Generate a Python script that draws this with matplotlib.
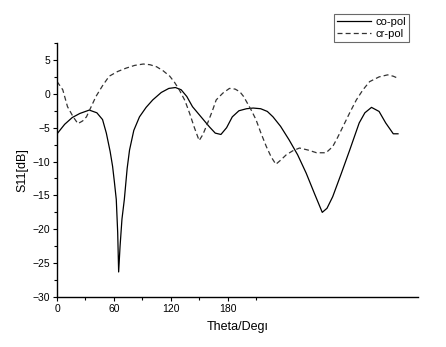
import numpy as np
import matplotlib
matplotlib.use('Agg')
import matplotlib.pyplot as plt
from matplotlib.ticker import MultipleLocator, FixedLocator

plt.rcParams['font.family'] = ['Liberation Sans', 'DejaVu Sans']

### Data (theta in deg, S11 in dB)
co_theta = [0, 8, 16, 24, 34, 42, 48, 52, 56, 58.6, 60.5, 62.5, 64, 65, 66.5, 68.5, 71,
            74, 76.5, 81, 87, 94, 101, 110, 118, 125, 131, 137, 143, 152, 161, 167, 173,
            179, 185, 192, 200, 207, 215, 222, 228, 236, 245, 254, 263, 272, 280, 285,
            291, 300, 309, 319, 325, 332, 340, 347, 355, 360]
co_s11 = [-5.9, -4.5, -3.5, -2.9, -2.4, -2.8, -3.8, -5.8, -8.5, -10.7, -13.0, -15.6, -20.5,
          -26.3, -22.5, -18.5, -15.6, -11.0, -8.3, -5.4, -3.4, -2.0, -0.9, 0.2, 0.8, 0.93,
          0.6, -0.4, -1.9, -3.4, -4.9, -5.8, -6.0, -5.0, -3.4, -2.5, -2.2, -2.1, -2.2,
          -2.6, -3.4, -4.8, -6.8, -9.0, -11.7, -14.8, -17.5, -16.9, -15.2, -11.8, -8.3,
          -4.3, -2.8, -2.0, -2.6, -4.3, -5.9, -5.9]

cr_theta = [0, 6, 11, 17, 22, 27, 31, 36, 41, 48, 55, 64, 73, 82, 91, 98, 105, 112, 119,
            124, 129, 135, 140, 145, 150, 154, 159, 164, 168, 175, 182, 188, 193, 197, 201,
            205, 210, 215, 221, 226, 231, 236, 242, 249, 256, 265, 274, 284, 291, 296,
            302, 309, 316, 323, 330, 340, 349, 355, 360]
cr_s11 = [1.8, 0.6, -1.9, -3.4, -4.4, -4.0, -3.4, -1.9, -0.4, 1.2, 2.6, 3.3, 3.8, 4.2,
          4.4, 4.3, 4.0, 3.4, 2.6, 1.7, 0.6, -1.0, -2.9, -5.0, -6.9, -6.0, -4.3, -2.5,
          -0.9, 0.1, 0.8, 0.7, 0.3, -0.4, -1.4, -2.4, -3.8, -5.7, -7.8, -9.3, -10.4, -9.8,
          -9.0, -8.4, -8.0, -8.3, -8.7, -8.7, -7.8, -6.5, -4.8, -2.8, -0.9, 0.6, 1.8, 2.5,
          2.8, 2.6, 2.3]

xtick_major = [0, 60, 120, 180]
xtick_minor = [30, 90, 150, 210]

### Figure parameters
fig = plt.figure(figsize=(4.46, 3.47), dpi=100)
ax = fig.add_axes([0.128, 0.144, 0.809, 0.732])

ax.plot(co_theta, co_s11, '-', color='black', lw=0.9, label='co-pol')
ax.plot(cr_theta, cr_s11, '--', color='#333333', lw=0.9, dashes=(4, 2.5), label='cr-pol')

ax.set_xlim(0, 381)
ax.set_ylim(-30, 7.5)
for s in ['top', 'right']:
    ax.spines[s].set_visible(False)
for s in ['left', 'bottom']:
    ax.spines[s].set_linewidth(1.0)

ax.xaxis.set_major_locator(FixedLocator(xtick_major))
ax.xaxis.set_minor_locator(FixedLocator(xtick_minor))
ax.yaxis.set_major_locator(MultipleLocator(5))
ax.yaxis.set_minor_locator(MultipleLocator(2.5))
ax.tick_params(which='major', direction='out', length=3, width=0.8, labelsize=7.5, pad=2)
ax.tick_params(which='minor', direction='out', length=2, width=0.8)

ax.set_xlabel('Theta/Degı', fontsize=9, labelpad=5)
ax.set_ylabel('S11[dB]', fontsize=9, labelpad=3)

leg = ax.legend(loc='upper left', bbox_to_anchor=(334 / 446, 1 - 14 / 347),
                bbox_transform=fig.transFigure, fontsize=8, frameon=True,
                fancybox=False, borderpad=0.3, handlelength=3.0, handletextpad=0.4,
                labelspacing=0.15, borderaxespad=0)
leg.get_frame().set_edgecolor('#444444')
leg.get_frame().set_linewidth(0.8)

fig.savefig('out.png', dpi=100)
